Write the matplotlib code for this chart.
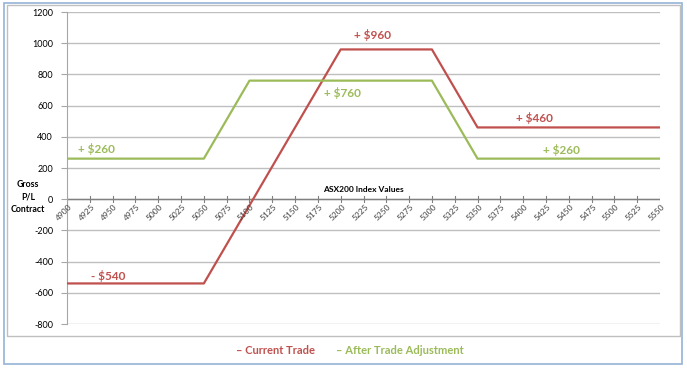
import matplotlib
matplotlib.use("Agg")
import matplotlib.pyplot as plt
from matplotlib.patches import Rectangle

plt.rcParams['font.family'] = ['Lato', 'DejaVu Sans']

index_values = list(range(4900, 5551, 25))
current_trade = [-540, -540, -540, -540, -540, -540, -540, -290, -40, 210, 460, 710,
                 960, 960, 960, 960, 960, 710, 460, 460, 460, 460, 460, 460, 460, 460, 460]
after_adjust = [260, 260, 260, 260, 260, 260, 260, 510, 760, 760, 760, 760,
                760, 760, 760, 760, 760, 510, 260, 260, 260, 260, 260, 260, 260, 260, 260]
y_ticks = list(range(-800, 1201, 200))

RED = '#C0504D'
GREEN = '#9BBB59'

fig = plt.figure(figsize=(6.87, 3.69), dpi=100)
fig.patches.append(Rectangle((4/687, 1-364/369), 678/687, 361/369, transform=fig.transFigure,
                             fill=False, edgecolor='#95B3D7', linewidth=1.2))
fig.patches.append(Rectangle((7/687, 1-336/369), 673/687, 331/369, transform=fig.transFigure,
                             fill=False, edgecolor='#BFBFBF', linewidth=1.0))

ax = fig.add_axes([67/687, 1-324/369, 593/687, 312/369])
x = list(range(len(index_values)))
ax.plot(x, current_trade, color=RED, linewidth=1.6, label='Current Trade', zorder=3)
ax.plot(x, after_adjust, color=GREEN, linewidth=1.6, label='After Trade Adjustment', zorder=3)

ax.set_xlim(0, len(index_values) - 1)
ax.set_ylim(-800, 1200)
ax.set_yticks(y_ticks)
ax.set_yticklabels([str(v) for v in y_ticks], fontsize=6.5)
ax.yaxis.grid(True, color='#BFBFBF', linewidth=1.0)
ax.set_axisbelow(True)
for s in ['top', 'right', 'bottom']:
    ax.spines[s].set_visible(False)
ax.spines['left'].set_color('#A6A6A6')
ax.tick_params(axis='y', length=4, color='#A6A6A6', pad=6)

# x axis at zero
ax.axhline(0, color='#808080', linewidth=1.0, zorder=2)
ax.set_xticks([])
for i, v in enumerate(index_values):
    ax.plot([i, i], [-20, 20], color='#808080', linewidth=0.8, zorder=2)
    ax.text(i + 0.05, -25, str(v), rotation=45, ha='right', va='top', fontsize=6,
            color='#404040', rotation_mode='anchor')

ax.text(13, 40, 'ASX200 Index Values', ha='center', va='bottom', fontsize=6, fontweight='bold')
fig.text(28/687, 1-197/369, 'Gross\nP/L\nContract', ha='center', va='center', fontsize=6.3,
         fontweight='bold', linespacing=1.45)

ann = dict(fontsize=8.5, fontweight='bold')
ax.text(13.4, 1050, '+ $960', color=RED, ha='center', va='center', **ann)
ax.text(12.06, 680, '+ $760', color=GREEN, ha='center', va='center', **ann)
ax.text(20.5, 519, '+ $460', color=RED, ha='center', va='center', **ann)
ax.text(1.3, 320, '+ $260', color=GREEN, ha='center', va='center', **ann)
ax.text(21.7, 314, '+ $260', color=GREEN, ha='center', va='center', **ann)
ax.text(1.8, -494, '- $540', color=RED, ha='center', va='center', **ann)

fig.text(276/687, 1-350/369, '– Current Trade', color=RED, ha='center', va='center',
         fontsize=8, fontweight='bold')
fig.text(400/687, 1-350/369, '– After Trade Adjustment', color=GREEN, ha='center', va='center',
         fontsize=8, fontweight='bold')

fig.savefig('out.png', dpi=100)
